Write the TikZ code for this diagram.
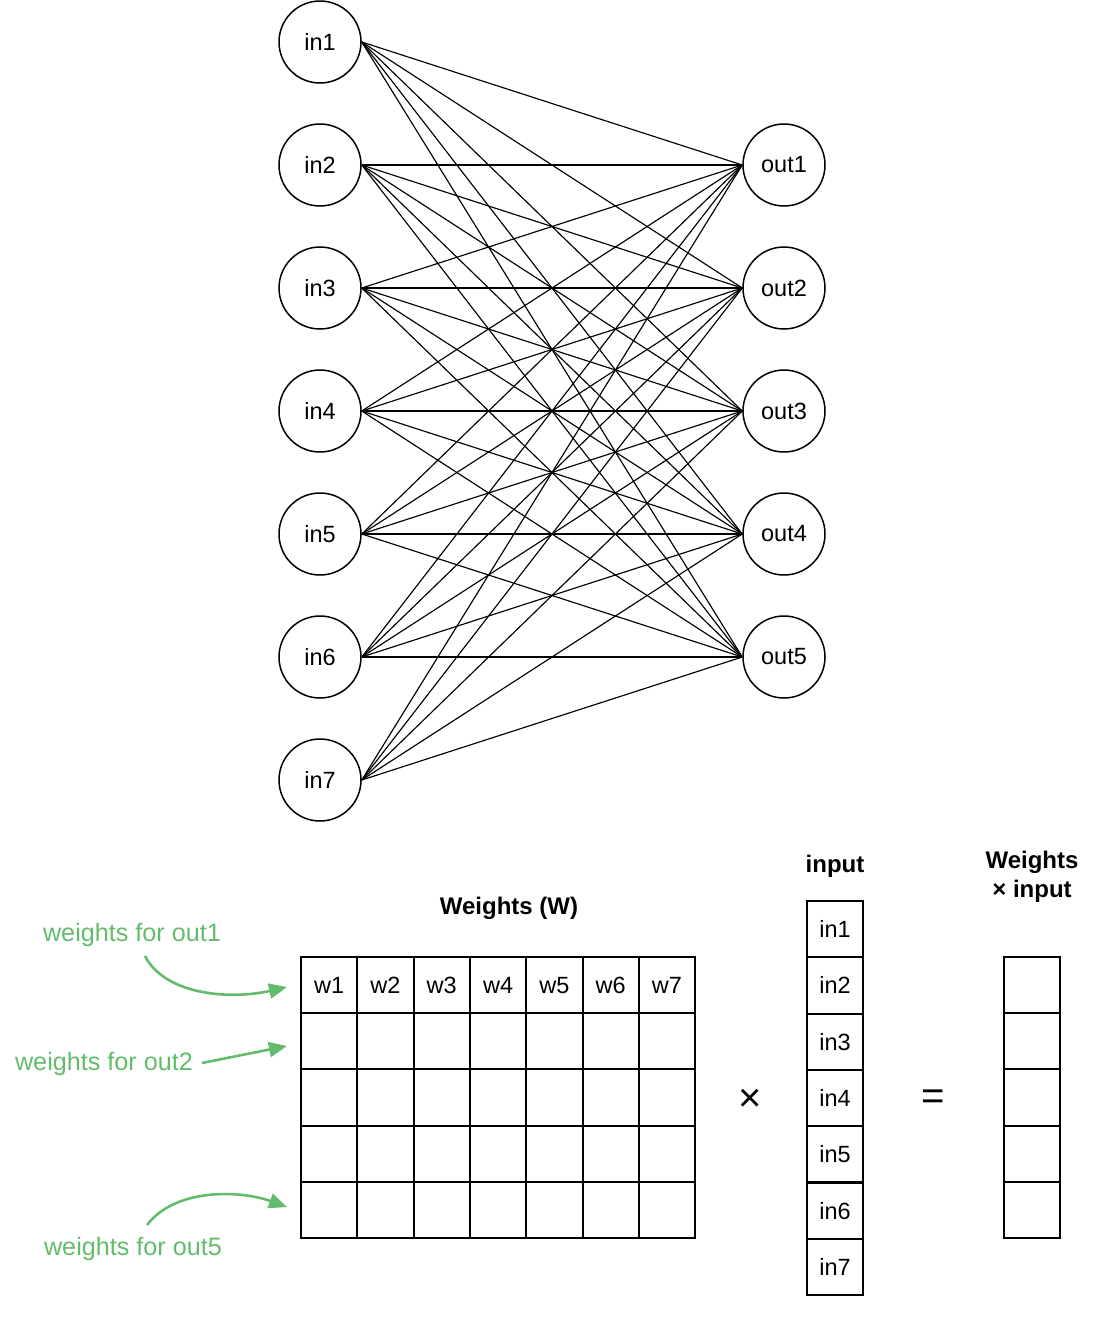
\documentclass[tikz,border=0pt]{standalone}
\usepackage{fontspec}
\setmainfont{Liberation Sans}
\usetikzlibrary{arrows.meta}
\definecolor{wgreen}{RGB}{98,188,108}
\begin{document}
\begin{tikzpicture}[x=1pt,y=-1pt,
  neuron/.style={circle,draw,line width=1.5pt,minimum size=82pt,inner sep=0pt,font=\fontsize{23.5}{27}\selectfont},
  link/.style={line width=1.15pt},
  cell/.style={draw,line width=2pt,minimum width=56.3pt,minimum height=56.2pt,inner sep=0pt,font=\fontsize{23.5}{27}\selectfont},
  lbl/.style={font=\fontsize{24}{29}\selectfont\bfseries,align=center},
  glbl/.style={text=wgreen,font=\fontsize{25.2}{29}\selectfont},
  garrow/.style={draw=wgreen,line width=2.6pt,-{Triangle[length=18pt,width=15pt]}}]
\useasboundingbox (0,0) rectangle (1095,1334);
% input neurons
\foreach \i in {1,...,7}
  \node[neuron] (in\i) at (320,{42+123*(\i-1)}) {in\i};
% output neurons
\foreach \j in {1,...,5}
  \node[neuron] (out\j) at (784,{165+123*(\j-1)}) {out\j};
% connections
\foreach \i in {1,...,7}
  \foreach \j in {1,...,5}
    \draw[link] (in\i.east) -- (out\j.west);
% weights matrix
\node[lbl] (wtitle) at (509,908) {Weights (W)};
\foreach \r in {1,...,5}
  \foreach \c in {1,...,7}
    \node[cell] (w-\r-\c) at ({301+56.3*(\c-0.5)},{957+56.2*(\r-0.5)}) {};
\foreach \c in {1,...,7}
  \node[font=\fontsize{23.5}{27}\selectfont] at (w-1-\c) {w\c};
% input vector
\node[lbl] (ititle) at (835,866) {input};
\foreach \k in {1,...,7}
  \node[cell] (x-\k) at (835,{901+56.3*(\k-0.5)}) {in\k};
% result vector
\node[lbl] (rtitle) at (1032,877) {Weights\\× input};
\foreach \r in {1,...,5}
  \node[cell] (y-\r) at (1032,{957+56.2*(\r-0.5)}) {};
% operators
\node[font=\fontsize{40}{44}\selectfont] (times) at (750,1100) {×};
\node[font=\fontsize{40}{44}\selectfont] (eq) at (933,1100) {=};
% green annotations
\node[glbl] (g1) at (132,935) {weights for out1};
\node[glbl] (g2) at (104,1064) {weights for out2};
\node[glbl] (g5) at (133,1249) {weights for out5};
\coordinate (t1) at (287,987);
\coordinate (t2) at (287,1046);
\coordinate (t5) at (287,1207);
\draw[garrow] (145,956) .. controls (165,995) and (230,1000) .. (t1);
\draw[garrow] (202,1063) -- (t2);
\draw[garrow] (147,1225) .. controls (175,1188) and (240,1190) .. (t5);
\end{tikzpicture}
\end{document}
